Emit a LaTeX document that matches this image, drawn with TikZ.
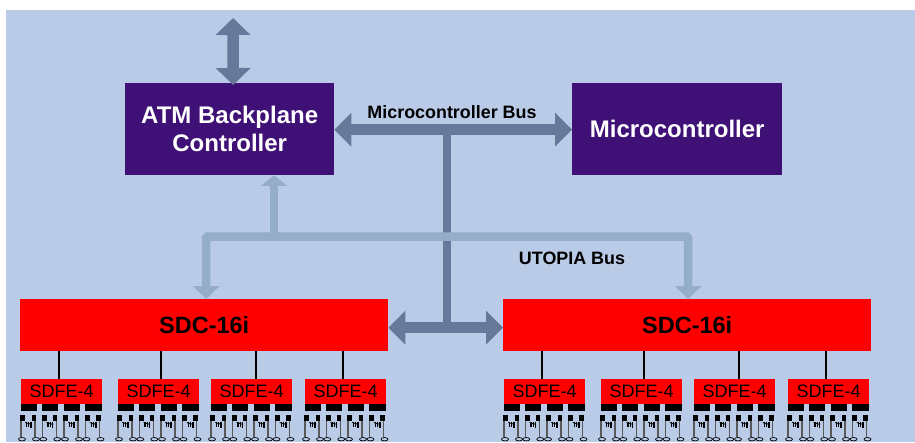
\documentclass[tikz,border=0pt]{standalone}
\usepackage{fontspec}
\setmainfont{Liberation Sans}
\usetikzlibrary{arrows.meta,positioning}
\definecolor{bgblue}{HTML}{B9CBE7}
\definecolor{busdark}{HTML}{67799A}
\definecolor{buslight}{HTML}{94ADCB}
\definecolor{boxpurple}{HTML}{3F1177}
\tikzset{
  ctrlbox/.style={fill=boxpurple,text=white,font=\fontsize{24}{28}\selectfont\bfseries,align=center,inner sep=0pt,anchor=north west},
  sdcbox/.style={fill=red,minimum width=368pt,minimum height=52pt,inner sep=0pt,anchor=north west,font=\fontsize{23.5}{27}\selectfont\bfseries},
  sdfebox/.style={fill=red,minimum width=81pt,minimum height=24.5pt,inner sep=0pt,anchor=north west,font=\fontsize{18}{20}\selectfont},
  buslabel/.style={font=\fontsize{17.9}{20}\selectfont\bfseries,inner sep=0pt},
  bigbus/.style={draw=busdark,line width=11.5pt,{Triangle[width=33pt,length=17pt]}-{Triangle[width=33pt,length=17pt]}},
  stem/.style={draw=busdark,line width=8pt},
  utopia/.style={draw=buslight,line width=8.5pt,rounded corners=1.5pt},
  feed/.style={draw=black,line width=2pt},
  lead/.style={draw=black!65,line width=1.4pt},
  term/.style={draw=black,fill=bgblue,line width=0.7pt},
  cell/.pic={
    \fill (-0.5,0.5) rectangle (16,7.5);
    \fill (-0.7,12) rectangle (4.3,18);
    \fill (10.7,12) rectangle (15,18);
    \path[lead] (0,18) -- (0,34);
    \path[lead] (14,18) -- (14,34);
    \draw[line width=0.8pt] (4.3,19.5) -- (10.7,21.5);
    \fill (5,18.5) rectangle (6.2,23.5);
    \fill (7.2,18.5) rectangle (8.4,24);
    \fill (9.4,19) rectangle (11,25);
    \path[term] (1,36.2) ellipse (3.5 and 1.7);
    \path[term] (15,36.2) ellipse (3.5 and 1.7);
  },
  fan/.pic={
    \foreach \o in {0,21.3,43,64.5} {\pic at (\o,0) {cell};}
  }
}
\begin{document}
\begin{tikzpicture}[x=1pt,y=-1pt]
\useasboundingbox (0,0) rectangle (915,442);
\fill[bgblue] (6,10) rectangle (915,442);

\node[ctrlbox,minimum width=209pt,minimum height=92pt] (atm) at (125,83) {\raisebox{1pt}{ATM Backplane}\\\raisebox{1pt}{Controller}};
\node[ctrlbox,minimum width=210pt,minimum height=92pt] (mcu) at (572,83) {\raisebox{1.5pt}{Microcontroller}};
\node[sdcbox] (sdcl) at (20,299) {SDC-16i};
\node[sdcbox] (sdcr) at (503,299) {SDC-16i};

\foreach \n/\x in {a/21,b/118,c/211,d/305,e/504,f/601,g/694,h/788} {
  \node[sdfebox] (\n) at (\x,379) {SDFE-4};
  \pic at (\x,403) {fan};
}
\foreach \n/\s in {a/-2.5,b/2.5,c/4,d/-2.5} {
  \path[feed] ([xshift=\s pt]\n.north) -- ([xshift=\s pt]\n.north |- sdcl.south);
}
\foreach \n/\s in {e/-2.5,f/2.5,g/4,h/-2.5} {
  \path[feed] ([xshift=\s pt]\n.north) -- ([xshift=\s pt]\n.north |- sdcr.south);
}

\coordinate (topend) at (233,18);
\coordinate (midtee) at (447,129.5);
\coordinate (lowtee) at (447,327.5);
\coordinate (ubus) at (447,236.5);
\coordinate (utee) at (274,236.5);

\path[stem] (midtee) -- (lowtee);
\path[bigbus,{Triangle[width=34pt,length=17pt]}-{Triangle[width=34pt,length=17pt]}] (topend) -- ([xshift=3.5pt,yshift=-2pt]atm.north);
\path[bigbus] ([yshift=-0.5pt]atm.east) -- ([yshift=-0.5pt]mcu.west);
\path[bigbus] ([yshift=-2.5pt]sdcl.east) -- ([yshift=-2.5pt]sdcr.west);

\path[utopia,{Triangle[width=26pt,length=13pt]}-{Triangle[width=26pt,length=13pt]}] ([xshift=2pt]sdcl.north) |- (ubus) -| ([xshift=1pt]sdcr.north);
\path[draw=buslight,line width=8.5pt,-{Triangle[width=26pt,length=10.5pt]}] (utee) -- (utee |- atm.south);

\node[buslabel] (mbl) at (452,112) {Microcontroller Bus};
\node[buslabel] (ubl) at (572,258) {UTOPIA Bus};
\end{tikzpicture}
\end{document}
